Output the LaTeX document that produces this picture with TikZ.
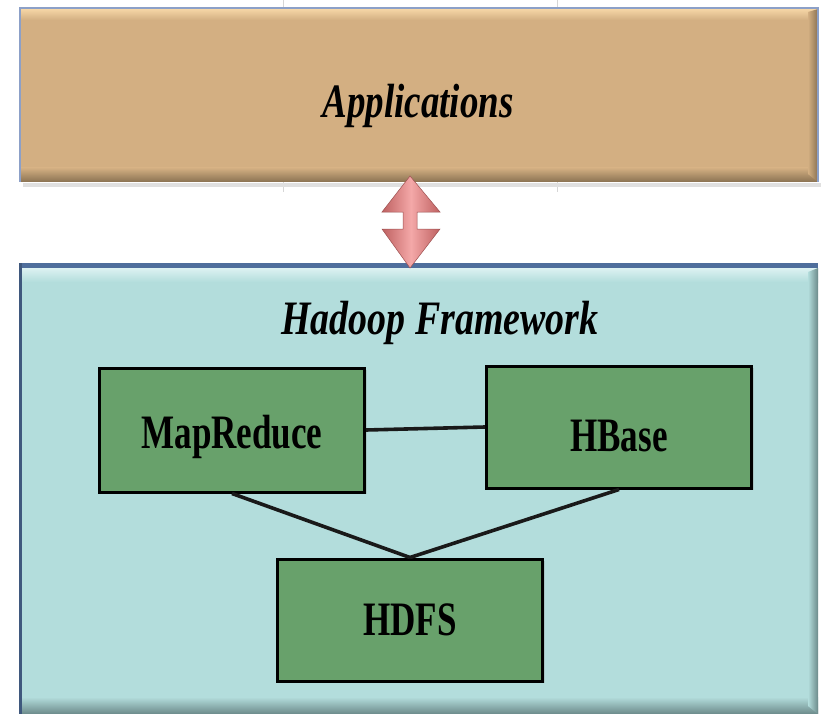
\documentclass[tikz,border=0pt]{standalone}
\usepackage{fontspec}
\setmainfont{Liberation Serif}
\usetikzlibrary{shadows,calc}

\definecolor{appfill}{HTML}{D3AF82}
\definecolor{applight}{HTML}{F5D6A6}
\definecolor{appdark}{HTML}{8A7252}
\definecolor{hadfill}{HTML}{B3DDDC}
\definecolor{hadlight}{HTML}{DDF2F2}
\definecolor{haddark}{HTML}{6C8A8A}
\definecolor{hadedge}{HTML}{4F6E9C}
\definecolor{compfill}{HTML}{68A16B}
\definecolor{arrowfill}{HTML}{E07272}
\definecolor{arrowlight}{HTML}{F4A8A8}
\definecolor{gridline}{HTML}{D6D6D6}

\newcommand{\narrow}[2][0.73]{\scalebox{#1}[1]{\fontsize{48}{50}\selectfont #2}}

\tikzset{
  component/.style={draw=black, line width=3pt, fill=compfill,
    minimum width=265pt, minimum height=124pt, inner sep=0pt,
    drop shadow={shadow xshift=2pt, shadow yshift=-2pt, opacity=0.25}},
  link/.style={line width=3.6pt, draw=black!90},
  heading/.style={inner sep=0pt},
}

\begin{document}
\begin{tikzpicture}[x=1pt, y=-1pt]
  \useasboundingbox (0,0) rectangle (821,714);
  \fill[white] (0,0) rectangle (821,714);

  % faint table rules behind the layers
  \draw[gridline, line width=0.6pt] (283,0) -- (283,10) (557,0) -- (557,10)
                                    (283,182) -- (283,192) (557,182) -- (557,192);

  % ---------- Applications layer ----------
  \fill[black!12] (23,183) rectangle (821,187);
  \fill[appfill] (20,9) rectangle (818,182);
  \shade[top color=applight, bottom color=appfill] (20,9) rectangle (818,20);
  \shade[top color=appfill, bottom color=appdark] (20,168) rectangle (818,182);
  \shade[left color=appfill, right color=appdark] (808,12) -- (818,9) -- (818,182) -- (808,174) -- cycle;
  \draw[color={rgb,255:red,140;green,160;blue,200}, line width=1.2pt] (20,182) -- (20,8) -- (818,8) -- (818,182);
  \node[heading] (app) at (418,106) {\narrow[0.77]{\bfseries\itshape Applications}};
  \coordinate (appbottom) at (410,176);

  % ---------- Hadoop framework layer ----------
  \fill[hadfill] (20,265) rectangle (818,714);
  \shade[top color=hadlight, bottom color=hadfill] (20,268) rectangle (818,282);
  \shade[top color=hadfill, bottom color=haddark] (20,697) rectangle (818,714);
  \shade[left color=hadfill, right color=haddark] (808,272) -- (818,268) -- (818,714) -- (808,706) -- cycle;
  \fill[hadedge] (20,263) rectangle (818,268);
  \fill[hadedge!80!black] (19,263) rectangle (22,714);
  \node[heading] (hf) at (440,323) {\narrow[0.79]{\bfseries\itshape Hadoop Framework}};
  \coordinate (hadtop) at (410,268);

  % ---------- two-way arrow between the layers ----------
  \shade[left color=arrowfill!85!black, right color=arrowfill!85!black, middle color=arrowlight]
    (appbottom) -- (440,212) -- (417,212) -- (417,229) -- (440,229) -- (hadtop)
    -- (382,229) -- (403,229) -- (403,212) -- (382,212) -- cycle;
  \draw[arrowfill!70!black, line width=0.5pt]
    (appbottom) -- (440,212) -- (417,212) -- (417,229) -- (440,229) -- (hadtop)
    -- (382,229) -- (403,229) -- (403,212) -- (382,212) -- cycle;

  % ---------- components ----------
  \node[component] (mr) at (232,430) {};
  \node[component, minimum height=122pt] (hb) at (619,427) {};
  \node[component, minimum height=122pt] (hdfs) at (410,620) {};
  \node[heading] (mrtext) at ($(mr.center)+(0,7)$) {\narrow{\bfseries MapReduce}};
  \node[heading] (hbtext) at ($(hb.center)+(0,9)$) {\narrow{\bfseries HBase}};
  \node[heading] (hdfstext) at (hdfs.center) {\narrow{\bfseries HDFS}};

  \draw[link] (mr.east) -- (hb.west);
  \draw[link] (mr.south) -- (hdfs.north);
  \draw[link] (hb.south) -- (hdfs.north);
\end{tikzpicture}
\end{document}
